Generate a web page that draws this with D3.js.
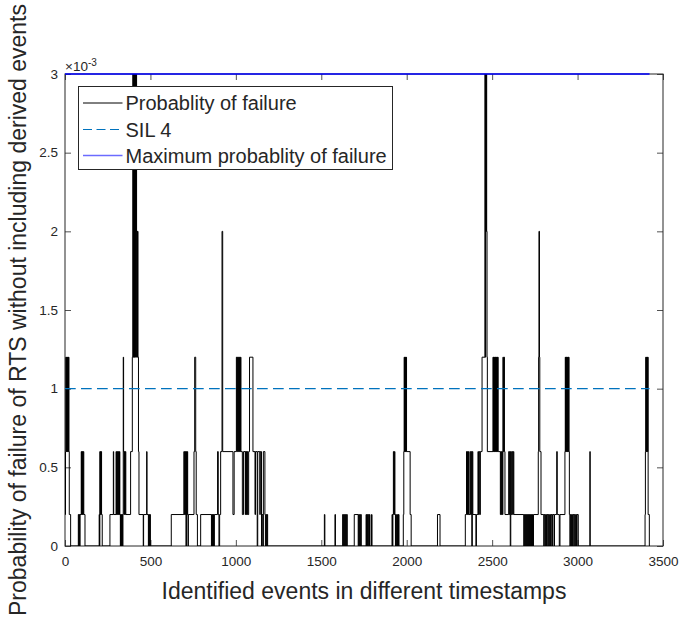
<!DOCTYPE html>
<html><head><meta charset="utf-8">
<script src="https://cdn.jsdelivr.net/npm/d3@7"></script>
<style>
body{margin:0;background:#fff}
svg{display:block}
text{font-family:"Liberation Sans",Arial,Helvetica,sans-serif;fill:#262626}
</style></head>
<body><svg id="chart" width="680" height="618"></svg>
<script>
// ---- data (probability values in units of 1e-3) ----
// step changes of the probability of failure: [event index, value]
const failureSteps = [
 [0,0.2],[3,0.6],[5,1.2],[7,0.6],[9,1.2],[11,0.6],[13,1.2],[15,0.6],[17,1.2],[19,0.6],[21,1.2],[23,0.6],[25,0.2],[33,0],
 [78,0.2],[81,0],[83,0.2],[86,0],[88,0.2],[95,0.6],[97,0.2],[99,0.6],[101,0.2],[103,0.6],[105,0.2],[107,0.6],[110,0.2],[117,0],
 [200,0.2],[202,0],[204,0.6],[206,0.2],[208,0.6],[210,0.2],[212,0.6],[214,0.2],[218,0],
 [263,0.2],[283,0.6],[285,0.2],[299,0.6],[301,0.2],[304,0.6],[306,0.2],[309,0.6],[311,0.2],[314,0.6],[316,0.2],[319,0.6],[321,0.2],
 [324,0],[326,0.2],[328,0],[330,0.2],[332,0],[334,0.2],[337,0],[339,0.2],[341,1.2],[343,0.6],[346,0.2],[348,0.6],[351,0.2],[353,0.6],[356,0.2],
 [384,0.6],[394,1.2],[397,3.6],[399,1.2],[401,3.6],[403,1.2],[405,3.6],[407,1.2],[409,3.6],[411,1.2],[413,3.6],[415,2.0],[417,3.6],[419,1.2],
 [421,2.0],[423,1.2],[425,2.0],[427,1.2],[430,0.6],[433,0.2],[458,0],[460,0.2],[478,0.6],[480,0.2],[488,0],[490,0.2],[494,0],[496,0.2],[500,0],
 [622,0.2],[696,0.6],[698,0.2],[701,0.6],[703,0.2],[706,0.6],[708,0],[711,0.6],[713,0.2],[716,0.6],[718,0.2],[720,0],[722,0.2],
 [755,0.6],[759,1.2],[765,0.6],[768,0.2],[775,0],
 [794,0.2],[857,0],[859,0.2],[862,0],[864,0.2],[867,0],[869,0.2],[872,0],[874,0.2],[893,0.6],[897,0.2],[901,0],[905,0.2],
 [911,0.6],[919,2.0],[923,0.6],[983,0.2],[990,0.6],
 [1003,1.2],[1006,0.6],[1009,1.2],[1012,0.6],[1015,1.2],[1018,0.6],[1021,1.2],[1024,0.6],[1027,1.2],[1030,0.6],
 [1038,0.2],[1045,0.6],[1055,0.2],[1057,0.6],[1060,0.2],[1062,0.6],[1065,0.2],[1067,0.6],[1070,0.2],[1075,0.6],[1080,1.2],[1100,0.6],
 [1112,0.2],[1115,0.6],[1125,0],[1128,0.6],[1140,0.2],[1143,0.6],[1150,0],[1153,0.2],[1158,0],[1161,0.6],[1170,0.2],[1173,0],[1176,0.2],[1180,0],[1183,0.2],[1186,0],
 [1518,0.2],[1521,0],[1580,0.2],[1583,0],
 [1625,0.2],[1628,0],[1631,0.2],[1634,0],[1637,0.2],[1640,0],[1643,0.2],[1646,0],[1649,0.2],[1652,0],
 [1693,0.2],[1716,0],[1719,0.2],[1722,0],[1725,0.2],[1728,0],[1731,0.2],[1734,0],
 [1762,0.2],[1765,0],[1768,0.2],[1771,0],[1775,0.2],[1778,0],[1782,0.2],[1785,0],[1794,0.2],[1797,0],
 [1914,0.2],[1917,0],[1919,0.2],[1922,0.6],[1925,0.2],[1928,0.6],[1931,0.2],[1934,0],[1936,0.2],[1940,0],[1946,0.2],[1950,0],[1952,0.2],[1955,0],
 [1980,0.2],[1983,0.6],[1985,1.2],[1987,0.6],[1989,1.2],[1991,0.6],[1993,1.2],[1995,0.6],[1997,1.2],[1999,0.6],[2020,0.2],[2026,0],
 [2180,0.2],[2195,0],
 [2343,0.2],[2350,0.6],[2353,0.2],[2356,0.6],[2359,0.2],[2362,0.6],[2365,0.2],[2372,0.6],[2375,0.2],[2378,0.6],[2381,0],[2384,0.6],[2387,0.2],
 [2405,0],[2408,0.2],[2417,0.6],[2420,0.2],[2424,0.6],[2428,0.2],[2431,0.6],
 [2441,1.2],[2458,3.6],[2460,1.2],[2462,3.6],[2464,2.0],[2466,3.6],[2468,2.0],[2470,1.2],[2472,0.6],
 [2505,1.2],[2507,0.6],[2509,1.2],[2511,0.6],[2513,1.2],[2515,0.6],[2517,1.2],[2519,0.6],[2521,1.2],[2523,0.6],[2525,1.2],[2527,0.6],[2529,1.2],[2531,0.6],[2533,1.2],[2535,0.6],
 [2548,0.2],[2551,0.6],[2554,0.2],[2557,0.6],[2560,0.2],[2563,1.2],[2566,0.6],[2569,1.2],[2572,0.6],[2575,0.2],
 [2597,0.6],[2600,0.2],[2603,0.6],[2606,0],[2609,0.6],[2612,0.2],[2616,0.6],[2620,0.2],[2624,0.6],[2627,0.2],
 [2685,0],[2688,0.2],[2691,0],[2694,0.2],[2697,0],[2700,0.2],[2703,0],[2706,0.2],[2709,0],[2712,0.2],[2715,0],[2718,0.2],[2721,0],[2724,0.2],
 [2727,0],[2730,0.2],[2733,0],[2736,0.2],[2739,0],[2742,0.2],
 [2770,0.6],[2772,1.2],[2774,2.0],[2777,1.2],[2779,0.6],[2786,0.2],
 [2802,0],[2805,0.2],[2810,0],[2813,0.2],[2818,0],[2821,0.2],[2826,0],[2829,0.2],[2834,0],[2837,0.2],[2842,0],[2845,0.2],[2850,0],[2853,0.2],
 [2862,0],[2865,0.2],[2878,0.6],[2881,0.2],[2893,0],[2897,0.2],
 [2926,0.6],[2928,1.2],[2930,0.6],[2932,1.2],[2934,0.6],[2936,1.2],[2938,0.6],[2940,1.2],[2942,0.6],[2944,1.2],[2946,0.6],[2948,1.2],[2950,0.6],
 [2952,0.2],[2955,0],[2958,0.2],[2962,0],[2965,0.2],[2970,0],[2973,0.2],[2978,0],[2981,0.2],[2986,0],[2989,0.2],[2994,0],[2997,0.2],[3004,0],
 [3072,0.6],[3074,0],
 [3395,0.2],[3397,0.6],[3399,1.2],[3401,0.6],[3403,1.2],[3405,0.6],[3407,1.2],[3409,0.6],[3411,1.2],[3413,0.2],[3420,0],[3421,0]
];
const silLevel = 1.0;        // SIL 4 threshold (x1e-3)
const maxLevel = 3.0;        // maximum probability of failure (x1e-3)
const xTicks = [0,500,1000,1500,2000,2500,3000,3500];
const yTicks = [0,0.5,1,1.5,2,2.5,3];
const legendLabels = ["Probablity of failure","SIL 4","Maximum probablity of failure"];
const xLabel = "Identified events in different timestamps";
const yLabel = "Probability of failure of RTS without including derived events";

// ---- layout ----
const L = 65, R = 663, T = 74, B = 546;
const svg = d3.select("#chart");
const x = d3.scaleLinear().domain([0,3500]).range([L,R]);
const y = d3.scaleLinear().domain([0,3]).range([B,T]);
const axisCol = "#262626";

svg.append("defs").append("clipPath").attr("id","clip")
  .append("rect").attr("x",L).attr("y",T).attr("width",R-L).attr("height",B-T);

// axes with inward ticks
const fmt = d3.format("~g");
const gx = svg.append("g").attr("transform",`translate(0,${B})`)
  .call(d3.axisBottom(x).tickValues(xTicks).tickSize(-6).tickPadding(10).tickFormat(fmt));
const gxt = svg.append("g").attr("transform",`translate(0,${T})`)
  .call(d3.axisTop(x).tickValues(xTicks).tickSize(-6).tickFormat(""));
const gy = svg.append("g").attr("transform",`translate(${L},0)`)
  .call(d3.axisLeft(y).tickValues(yTicks).tickSize(-6).tickPadding(7).tickFormat(fmt));
const gyr = svg.append("g").attr("transform",`translate(${R},0)`)
  .call(d3.axisRight(y).tickValues(yTicks).tickSize(-6).tickFormat(""));
[gx,gxt,gy,gyr].forEach(g=>{
  g.select(".domain").remove();
  g.selectAll("line").attr("stroke",axisCol).attr("stroke-width",0.8);
  g.selectAll("text").attr("fill",axisCol).style("font-size","13.5px")
   .style("font-family",'"Liberation Sans",Arial,sans-serif');
});
svg.append("rect").attr("x",L).attr("y",T).attr("width",R-L).attr("height",B-T)
  .attr("fill","none").attr("stroke",axisCol).attr("stroke-width",1);

// exponent label
const ex = svg.append("text").attr("x",L).attr("y",70.5).style("font-size","13.5px");
ex.append("tspan").text("\u00d710");
ex.append("tspan").attr("dy",-5).style("font-size","10px").text("-3");

// data lines
const xEnd = failureSteps[failureSteps.length-1][0];
const plot = svg.append("g").attr("clip-path","url(#clip)");
const line = d3.line().x(d=>x(d[0])).y(d=>y(d[1])).curve(d3.curveStepAfter);
plot.append("path").datum(failureSteps).attr("d",line)
  .attr("fill","none").attr("stroke","#000").attr("stroke-width",1);
plot.append("path").datum([[0,silLevel],[xEnd,silLevel]]).attr("d",d3.line().x(d=>x(d[0])).y(d=>y(d[1])))
  .attr("fill","none").attr("stroke","#0072BD").attr("stroke-width",1.1).attr("stroke-dasharray","10.7,5.3");
svg.append("path").datum([[0,maxLevel],[xEnd,maxLevel]]).attr("d",d3.line().x(d=>x(d[0])).y(d=>y(d[1])))
  .attr("fill","none").attr("stroke","#0000ff").attr("stroke-width",1.3);

// legend
const lg = svg.append("g");
lg.append("rect").attr("x",78.5).attr("y",86.5).attr("width",314).attr("height",83)
  .attr("fill","#fff").attr("stroke",axisCol).attr("stroke-width",1);
const rowY = [103,129.5,155.5];
const styles = [
  {c:"#000",d:null,w:1},
  {c:"#0072BD",d:"9,4.5",w:1.1},
  {c:"#6b6bff",d:null,w:1.4}
];
legendLabels.forEach((t,i)=>{
  lg.append("line").attr("x1",83).attr("x2",122.5).attr("y1",rowY[i]).attr("y2",rowY[i])
    .attr("stroke",styles[i].c).attr("stroke-width",styles[i].w).attr("stroke-dasharray",styles[i].d);
  lg.append("text").attr("x",125.5).attr("y",rowY[i]).attr("dy","0.36em")
    .style("font-size","20px").attr("fill","#000").text(t);
});

// axis labels
svg.append("text").attr("x",(L+R)/2).attr("y",599).attr("text-anchor","middle")
  .style("font-size","23px").text(xLabel);
svg.append("text").attr("transform",`translate(26,${(T+B)/2}) rotate(-90)`).attr("text-anchor","middle")
  .style("font-size","23px").text(yLabel);
</script></body></html>
